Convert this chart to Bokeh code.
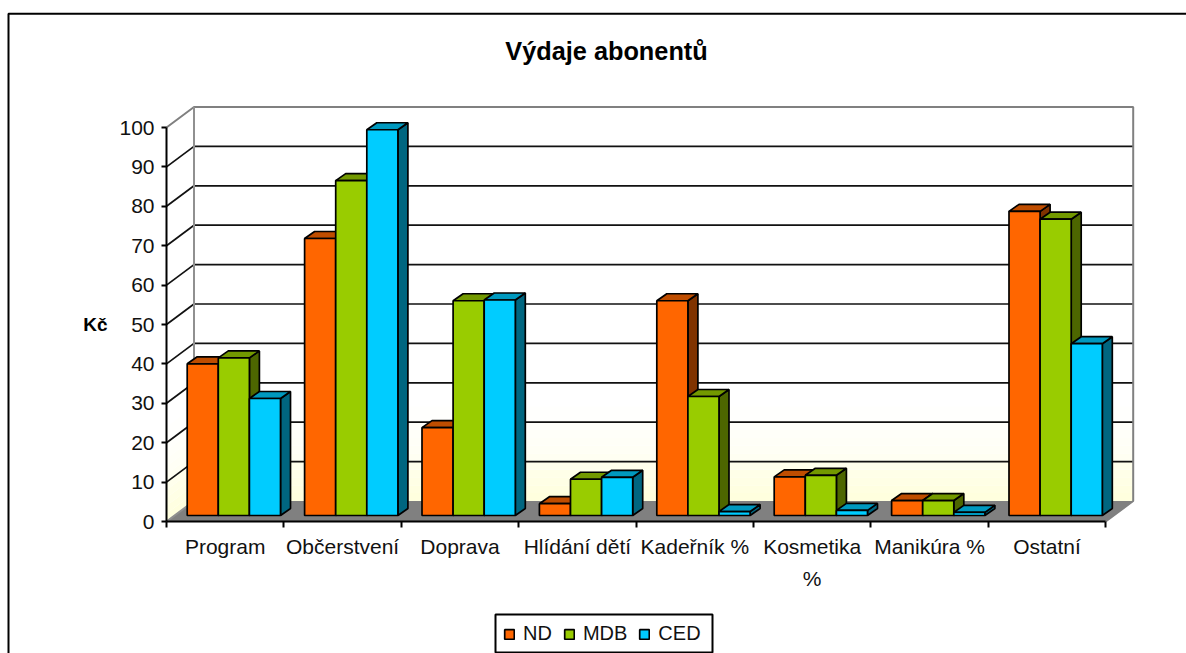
from bokeh.plotting import figure
from bokeh.models import FixedTicker, Legend, LegendItem, BoxAnnotation, Range1d, Label
from bokeh.embed import file_html
from bokeh.resources import INLINE

# ---- data ----
categories = ["Program", "Občerstvení", "Doprava", "Hlídání dětí", "Kadeřník %",
              "Kosmetika\n%", "Manikúra %", "Ostatní"]
nd  = [38.5, 70.3, 22.3, 3.0, 54.5, 9.8, 3.8, 77.2]
mdb = [40.0, 85.0, 54.5, 9.2, 30.2, 10.2, 3.8, 75.2]
ced = [29.7, 97.9, 54.7, 9.7, 1.0, 1.3, 0.8, 43.6]
series_names = ["ND", "MDB", "CED"]
y_ticks = [0, 10, 20, 30, 40, 50, 60, 70, 80, 90, 100]
title_text = "Výdaje abonentů"
y_label = "Kč"

# (front colour, top colour, side colour)
series_colors = [("#FF6600", "#BF4D00", "#803300"),
                 ("#99CC00", "#739900", "#4D6600"),
                 ("#00CCFF", "#0099BF", "#006680")]
wall_stops  = [0, 2, 4, 6, 8, 10, 12, 14, 16, 18, 20, 24]
wall_colors = ["#FFFFDE", "#FFFFE1", "#FFFFE5", "#FFFFE8", "#FFFFEC", "#FFFFF2",
               "#FFFFF5", "#FFFFF7", "#FFFFF9", "#FFFFFB", "#FFFFFD"]

# ---- scale of the drawing: pixels per data unit ----
W, H = 1186, 653
X0, Y0 = 166, 521                          # where (0, 0) lies in the picture
PX_X, PX_Y = 117.4, 3.94
DX, DY = 27.5 / PX_X, 20.5 / PX_Y          # depth of the floor
BDX, BDY = 10 / PX_X, 7 / PX_Y             # depth of a bar
BAR_W = 31.1 / PX_X
BAR_OFF = 20.7 / PX_X
BASE = 6 / PX_Y
FONT = "Liberation Sans"


def xs(px):
    return (px - X0) / PX_X


def ys(px):
    return (Y0 - px) / PX_Y


p = figure(width=W, height=H, output_backend="svg", toolbar_location=None,
           x_range=Range1d(xs(0), xs(W)), y_range=Range1d(ys(H), ys(0)),
           min_border=0, background_fill_color="white", border_fill_color="white",
           outline_line_color=None)
p.grid.visible = False

# outer frame of the chart (runs past the window on the right and the bottom)
p.add_layout(BoxAnnotation(left=xs(8), right=xs(W + 20), top=ys(13.3), bottom=ys(H + 20),
                           fill_alpha=0, line_color="black", line_alpha=1, line_width=2,
                           level="underlay"))

p.add_layout(Label(x=xs(606), y=ys(50.5), text=title_text, text_align="center", text_baseline="middle",
                   text_font=FONT, text_font_size="25.3px", text_font_style="bold", text_color="black"))

# walls: gradient in steps
n_cats = len(categories)
wall_right = n_cats + DX
for lo, hi, col in zip(wall_stops[:-1], wall_stops[1:], wall_colors):
    p.quad(left=DX, right=wall_right, bottom=lo + DY, top=hi + DY, fill_color=col, line_color=None)
    p.patch([0, DX, DX, 0], [lo, lo + DY, hi + DY, hi], fill_color=col, line_color=None)

# floor
p.patch([0, DX, wall_right, n_cats], [0, DY, DY, 0], fill_color="#808080", line_color=None)

# walls' gridlines
inner = y_ticks[1:-1]
p.segment(x0=[DX] * len(inner), x1=[wall_right] * len(inner),
          y0=[v + DY for v in inner], y1=[v + DY for v in inner], line_color="#111111", line_width=1.7)
p.segment(x0=[0] * len(inner), x1=[DX] * len(inner),
          y0=inner, y1=[v + DY for v in inner], line_color="#111111", line_width=1.7)
top = y_ticks[-1]
p.line([0, DX, wall_right, wall_right, n_cats], [top, top + DY, top + DY, DY, 0],
       line_color="#808080", line_width=2)
p.line([DX, DX, 0], [top + DY, DY, 0], line_color="#909090", line_width=2)

# bars
legend_items = []
for s, (vals, name, cols) in enumerate(zip([nd, mdb, ced], series_names, series_colors)):
    lefts = [i + BAR_OFF + s * BAR_W for i in range(n_cats)]
    rights = [x + BAR_W for x in lefts]
    tops = [BASE + v for v in vals]
    bottoms = [BASE] * n_cats
    side_x = [[r, r + BDX, r + BDX, r] for r in rights]
    side_y = [[BASE, BASE + BDY, t + BDY, t] for t in tops]
    top_x = [[l, l + BDX, r + BDX, r] for l, r in zip(lefts, rights)]
    top_y = [[t, t + BDY, t + BDY, t] for t in tops]
    p.patches(side_x, side_y, fill_color=cols[2], line_color="black", line_width=1.7)
    p.patches(top_x, top_y, fill_color=cols[1], line_color="black", line_width=1.7)
    front = p.quad(left=lefts, right=rights, bottom=bottoms, top=tops,
                   fill_color=cols[0], line_color="black", line_width=1.7)
    legend_items.append(LegendItem(label=name, renderers=[front]))

# axes
yax = p.yaxis[0]
yax.fixed_location = 0
yax.ticker = FixedTicker(ticks=y_ticks)
yax.minor_tick_line_color = None
yax.bounds = (0, 100)
yax.major_tick_in = 0
yax.major_tick_out = 5
yax.axis_line_width = 2
yax.major_tick_line_width = 2
yax.axis_line_color = "black"
yax.major_tick_line_color = "black"
yax.major_label_text_font = FONT
yax.major_label_text_font_size = "21px"
yax.major_label_text_color = "#111111"
yax.major_label_standoff = 7
yax.axis_label = y_label
yax.axis_label_orientation = "horizontal"
yax.axis_label_text_font = FONT
yax.axis_label_text_font_size = "19px"
yax.axis_label_text_font_style = "bold"
yax.axis_label_text_color = "black"
yax.axis_label_standoff = 9

first_lines = [c.split("\n")[0] for c in categories]
xax = p.xaxis[0]
xax.fixed_location = 0
centres = [i + 0.5 for i in range(n_cats)]
xax.ticker = FixedTicker(ticks=centres, minor_ticks=list(range(n_cats + 1)))
xax.major_label_overrides = dict(zip(centres, first_lines))
xax.bounds = (0, n_cats)
xax.major_tick_in = 0
xax.major_tick_out = 0
xax.minor_tick_in = 0
xax.minor_tick_out = 6
xax.minor_tick_line_color = "black"
xax.minor_tick_line_width = 2
xax.axis_line_width = 2
xax.axis_line_color = "black"
xax.major_label_text_font = FONT
xax.major_label_text_font_size = "21px"
xax.major_label_text_color = "#111111"
xax.major_label_standoff = 7
xax.major_label_orientation = "horizontal"

# second line of a wrapped category label
for c, cat in zip(centres, categories):
    if "\n" in cat:
        p.add_layout(Label(x=c, y=ys(578), text=cat.split("\n")[1], text_align="center",
                           text_baseline="middle", text_font=FONT, text_font_size="21px",
                           text_color="#111111"))

# legend box and legend
p.add_layout(BoxAnnotation(left=xs(495), right=xs(712), top=ys(614), bottom=ys(652),
                           fill_color="white", fill_alpha=1, line_color="black", line_alpha=1,
                           line_width=2))
legend = Legend(items=legend_items, orientation="horizontal", location=(503, H - 645),
                border_line_color=None, background_fill_alpha=0,
                label_text_font=FONT, label_text_font_size="20px", label_text_color="#111111",
                glyph_width=12, glyph_height=12, label_standoff=8, spacing=11,
                padding=5, margin=0)
p.add_layout(legend, "center")

open("out.html", "w").write(file_html(p, INLINE))
